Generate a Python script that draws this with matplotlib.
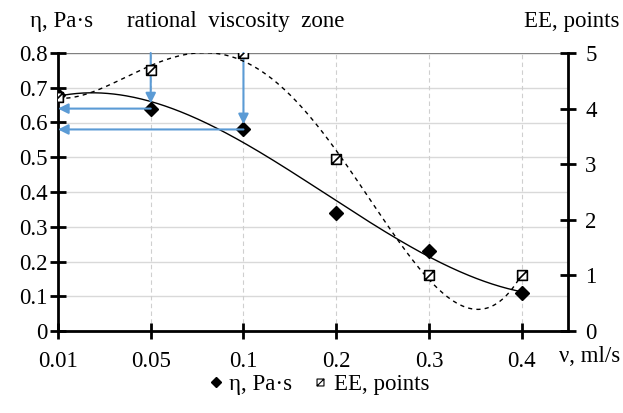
import numpy as np
import matplotlib
matplotlib.use("Agg")
import matplotlib.pyplot as plt
from matplotlib.path import Path
from matplotlib.lines import Line2D

plt.rcParams['font.family'] = ['Liberation Serif', 'DejaVu Serif']

# data
flow_labels = ["0.01", "0.05", "0.1", "0.2", "0.3", "0.4"]
viscosity = [0.68, 0.64, 0.58, 0.34, 0.23, 0.11]
ee_points = [4.2, 4.7, 5.0, 3.1, 1.0, 1.0]
zone_flows = ["0.05", "0.1"]  # rational viscosity zone markers

FS = 16.5
BLUE = "#5B9BD5"

fig = plt.figure(figsize=(6.23, 4.13), dpi=100)
ax = fig.add_axes([58/623, 1-331/413, (568-58)/623, (331-53)/413])
ax2 = ax.twinx()

x = np.arange(len(flow_labels))
ax.set_xlim(0, len(flow_labels) - 0.5)
ax.set_ylim(0, 0.8)
ax2.set_ylim(0, 5)
ax.set_yticks(np.arange(0, 0.81, 0.1))
ax.set_yticklabels(["0"] + [f"{v:.1f}" for v in np.arange(0.1, 0.81, 0.1)])
ax2.set_yticks(range(6))
ax.set_xticks(x)
ax.set_xticklabels(flow_labels)

# grid
for yv in np.arange(0.1, 0.75, 0.1):
    ax.axhline(yv, color="#d9d9d9", lw=1.0, zorder=0)
ax.axhline(0.8, color="#808080", lw=1.0, zorder=0)
for xv in x[1:]:
    ax.axvline(xv, color="#cfcfcf", lw=0.8, ls=(0, (4, 3)), zorder=0)

# spines
for a in (ax, ax2):
    a.spines['top'].set_visible(False)
for s in ('left', 'bottom'):
    ax.spines[s].set_linewidth(2.0)
ax.spines['right'].set_visible(False)
ax2.spines['left'].set_visible(False)
ax2.spines['bottom'].set_visible(False)
ax2.spines['right'].set_linewidth(2.0)
ax.tick_params(axis='both', direction='inout', length=11, width=2.0, labelsize=FS, pad=2)
ax.tick_params(axis='x', pad=9)
ax2.tick_params(axis='y', direction='inout', length=11, width=2.0, labelsize=FS, pad=7)

# trend lines (polynomial fits over category index)
xi = x + 1
xs = np.linspace(0, len(x) - 1, 300)
p_eta = np.polyfit(xi, viscosity, 3)
p_ee = np.polyfit(xi, ee_points, 4)
ax.plot(xs, np.polyval(p_eta, xs + 1), color="black", lw=1.0, zorder=3)
ax2.plot(xs, np.polyval(p_ee, xs + 1), color="black", lw=1.0, ls=(0, (3, 3)), zorder=3)

# hatched square marker (square with one diagonal)
hv = [(-1, -1), (1, -1), (1, 1), (-1, 1), (-1, -1),
      (-1, -1), (1, 1)]
hc = [Path.MOVETO, Path.LINETO, Path.LINETO, Path.LINETO, Path.CLOSEPOLY,
      Path.MOVETO, Path.LINETO]
hatch_sq = Path(hv, hc)

ax.plot(x, viscosity, ls="none", marker="D", ms=7, color="black", zorder=5)
ax2.plot(x, ee_points, ls="none", marker=hatch_sq, ms=7, mfc="white", mec="black", mew=1.2, zorder=5)

# arrows for the rational viscosity zone
for lab in zone_flows:
    i = flow_labels.index(lab)
    v = viscosity[i]
    ax.annotate("", xy=(x[i], v + 0.015), xytext=(x[i], 0.8),
                arrowprops=dict(arrowstyle="-|>,head_length=0.6,head_width=0.3", color=BLUE, lw=1.5,
                                shrinkA=0, shrinkB=0), zorder=6)
    ax.annotate("", xy=(0, v), xytext=(x[i], v),
                arrowprops=dict(arrowstyle="-|>,head_length=0.6,head_width=0.3", color=BLUE, lw=1.5,
                                shrinkA=0, shrinkB=0), zorder=6)

# texts
fig.text(30/623, 1-22/413, "η, Pa·s", fontsize=FS, va="center", ha="left")
fig.text(127/623, 1-22/413, "rational  viscosity  zone", fontsize=FS, va="center", ha="left")
fig.text(620/623, 1-22/413, "EE, points", fontsize=FS, va="center", ha="right")
fig.text(620/623, 1-357/413, "ν, ml/s", fontsize=FS, va="center", ha="right")

handles = [Line2D([], [], ls="none", marker="D", ms=5, color="black"),
           Line2D([], [], ls="none", marker=hatch_sq, ms=5, mfc="white", mec="black", mew=0.8)]
fig.legend(handles, ["η, Pa·s", "EE, points"], loc="center", bbox_to_anchor=(319/623, 1-384/413),
           ncol=2, frameon=False, fontsize=FS, handlelength=0.6, handletextpad=0.3, columnspacing=0.9)

fig.savefig("out.png", dpi=100)
